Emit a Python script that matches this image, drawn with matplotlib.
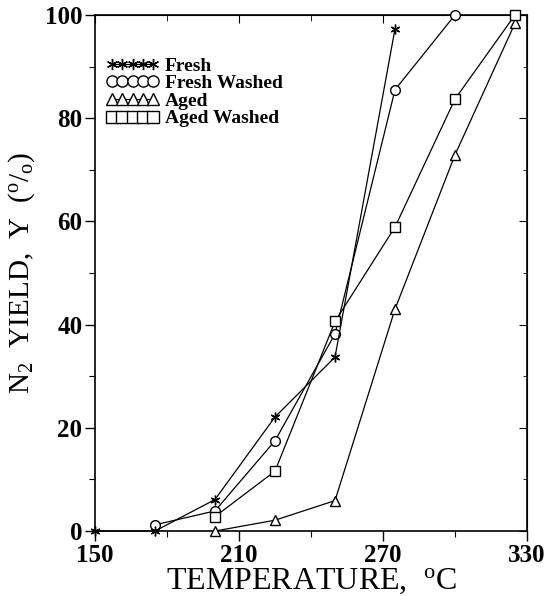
import numpy as np
import matplotlib
matplotlib.use("Agg")
import matplotlib.pyplot as plt
from matplotlib.ticker import MultipleLocator

plt.rcParams['font.family'] = ['Liberation Serif', 'DejaVu Serif']
plt.rcParams['mathtext.fontset'] = 'custom'
plt.rcParams['mathtext.rm'] = 'Liberation Serif'
plt.rcParams['mathtext.it'] = 'Liberation Serif:italic'

# 数据
t_fresh = [150, 175, 200, 225, 250, 275]
y_fresh = [0, 0, 6.1, 22.1, 33.7, 97.3]
t_fresh_w = [175, 200, 225, 250, 275, 300]
y_fresh_w = [1.2, 3.9, 17.5, 38.2, 85.5, 100]
t_aged = [200, 225, 250, 275, 300, 325]
y_aged = [0, 2.1, 5.9, 43.0, 72.9, 98.4]
t_aged_w = [200, 225, 250, 275, 300, 325]
y_aged_w = [2.8, 11.6, 40.6, 58.9, 83.7, 100]

fig = plt.figure(figsize=(5.49, 5.96), dpi=100)
ax = fig.add_axes([0.173, 0.109, 0.787, 0.866])

style = dict(color='black', lw=0.9, markersize=7, markerfacecolor='white',
             markeredgecolor='black', markeredgewidth=1.0, clip_on=False)
ax.plot(t_fresh, y_fresh, marker=(6, 2, 0), label='Fresh', zorder=4, **style)
ax.plot(t_fresh_w, y_fresh_w, marker='o', label='Fresh Washed', zorder=3, **style)
ax.plot(t_aged, y_aged, marker='^', label='Aged', zorder=3, **style)
ax.plot(t_aged_w, y_aged_w, marker='s', label='Aged Washed', zorder=3, **style)

ax.set_xlim(150, 330)
ax.set_ylim(0, 100)
ax.set_xticks([150, 210, 270, 330])
ax.set_yticks(range(0, 101, 20))
ax.xaxis.set_minor_locator(MultipleLocator(30))
ax.yaxis.set_minor_locator(MultipleLocator(10))
ax.tick_params(which='major', direction='out', length=7, width=1.0,
               labelsize=18, pad=2)
ax.tick_params(which='minor', direction='out', length=4, width=0.8)
for lab in ax.get_xticklabels() + ax.get_yticklabels():
    lab.set_fontweight('bold')
for sp in ax.spines.values():
    sp.set_linewidth(1.2)

# 右侧和顶部的内向刻度
sy = ax.secondary_yaxis('right')
sy.set_yticks(range(0, 101, 20))
sy.yaxis.set_minor_locator(MultipleLocator(10))
sy.tick_params(which='major', direction='in', length=6, labelright=False)
sy.tick_params(which='minor', direction='in', length=3)
sx = ax.secondary_xaxis('top')
sx.set_xticks([150, 210, 270, 330])
sx.xaxis.set_minor_locator(MultipleLocator(30))
sx.tick_params(which='major', direction='in', length=6, labeltop=False)
sx.tick_params(which='minor', direction='in', length=4)

ax.set_xlabel('TEMPERATURE,  $^\\mathrm{o}$C', fontsize=23, labelpad=0)
ax.set_ylabel('N$_2$  YIELD,  Y  ($^\\mathrm{o}$/$_\\mathrm{o}$)', fontsize=21,
              labelpad=6)

leg = ax.legend(loc='upper left', bbox_to_anchor=(-0.005, 0.945), frameon=False,
                numpoints=5, handlelength=2.7, handletextpad=0.3,
                labelspacing=0.0, borderaxespad=0.3, markerscale=1.15,
                prop={'size': 14, 'weight': 'bold'})

plt.savefig('out.png', dpi=100)
